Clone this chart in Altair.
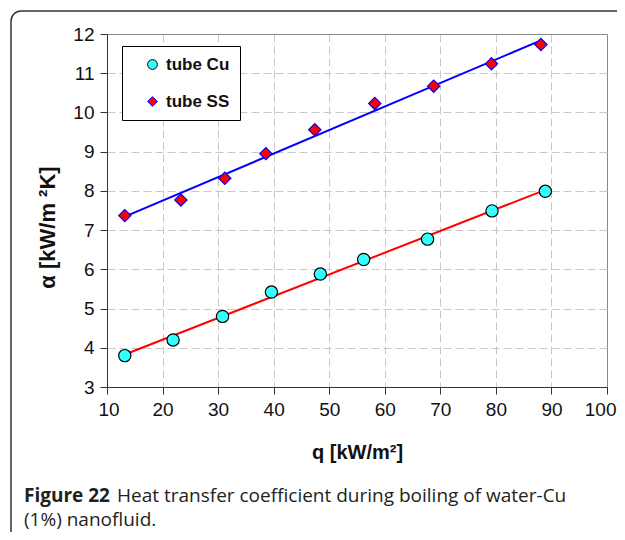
import altair as alt
import pandas as pd

# data
cu_q = [13.2, 21.9, 30.8, 39.6, 48.4, 56.2, 67.7, 79.3, 88.9]
cu_a = [3.80, 4.20, 4.80, 5.42, 5.88, 6.25, 6.77, 7.49, 7.99]
ss_q = [13.2, 23.3, 31.2, 38.6, 47.4, 58.2, 68.8, 79.2, 88.1]
ss_a = [7.37, 7.77, 8.32, 8.95, 9.56, 10.23, 10.67, 11.24, 11.73]
series_names = ["tube Cu", "tube SS"]
x_ticks = [10, 20, 30, 40, 50, 60, 70, 80, 90, 100]
y_ticks = [3, 4, 5, 6, 7, 8, 9, 10, 11, 12]

df = pd.DataFrame({
    "q": cu_q + ss_q,
    "a": cu_a + ss_a,
    "series": [series_names[0]] * len(cu_q) + [series_names[1]] * len(ss_q),
})
one = pd.DataFrame({"k": [0]})

W, H = 500, 353
AX = "Liberation Sans"

xscale = alt.Scale(domain=[10, 100], nice=False, zero=False)
yscale = alt.Scale(domain=[3, 12], nice=False, zero=False)

x_axis = alt.Axis(
    values=x_ticks, title="q [kW/m²]", labelFont=AX, labelFontSize=19, labelColor="#111",
    labelFlush=True, labelFlushOffset=9,
    titleFont=AX, titleFontSize=20, titleFontWeight="bold", titleColor="#111",
    titleX=250, titleY=65, titleBaseline="middle", titleAlign="center",
    tickSize=7, tickColor="#333", domainColor="#333", labelPadding=6,
    gridColor={"condition": {"test": "datum.value === 100", "value": "#888888"}, "value": "#c8c8c8"},
    gridDash={"condition": {"test": "datum.value === 100", "value": []}, "value": [8, 4]},
    gridOpacity={"condition": {"test": "datum.value === 10", "value": 0}, "value": 1},
)
y_axis = alt.Axis(
    values=y_ticks, title="α   [kW/m ²K]", labelFont=AX, labelFontSize=19, labelColor="#111",
    titleFont=AX, titleFontSize=22, titleFontWeight="bold", titleColor="#111",
    tickSize=7, tickColor="#333", domainColor="#333", labelPadding=6,
    titleX=-60, titleY=193, titleAngle=-90, titleAlign="center", titleBaseline="middle",
    gridColor={"condition": {"test": "datum.value === 12", "value": "#888888"}, "value": "#c8c8c8"},
    gridDash={"condition": {"test": "datum.value === 12", "value": []}, "value": [8, 4]},
    gridOpacity={"condition": {"test": "datum.value === 3", "value": 0}, "value": 1},
)

base = alt.Chart(df)

line_cu = base.transform_filter(alt.datum.series == series_names[0]).transform_regression(
    "q", "a").mark_line(color="#ff0000", strokeWidth=2).encode(
    x=alt.X("q:Q", scale=xscale, axis=x_axis), y=alt.Y("a:Q", scale=yscale, axis=y_axis))
line_ss = base.transform_filter(alt.datum.series == series_names[1]).transform_regression(
    "q", "a").mark_line(color="#0000ff", strokeWidth=2).encode(
    x=alt.X("q:Q", scale=xscale, axis=x_axis), y=alt.Y("a:Q", scale=yscale, axis=y_axis))

legend = alt.Legend(
    title=None, orient="none", legendX=15, legendY=12, direction="vertical",
    fillColor="white", strokeColor="#000", padding=10, rowPadding=19,
    labelFont=AX, labelFontSize=17, labelFontWeight="bold", labelColor="#111",
    symbolSize=95, symbolStrokeWidth=1, symbolOffset=12, labelOffset=5,
)

points = base.mark_point(filled=True, opacity=1, size=150, strokeWidth=1.2).encode(
    x=alt.X("q:Q", scale=xscale, axis=x_axis),
    y=alt.Y("a:Q", scale=yscale, axis=y_axis),
    fill=alt.Fill("series:N", scale=alt.Scale(domain=series_names, range=["#33ffff", "#ff0000"]), legend=legend),
    stroke=alt.Stroke("series:N", scale=alt.Scale(domain=series_names, range=["#000000", "#0000ff"]), legend=legend),
    shape=alt.Shape("series:N", scale=alt.Scale(domain=series_names, range=["circle", "diamond"]), legend=legend),
)

frame = alt.Chart(one).mark_rect(
    cornerRadius=10, fillOpacity=0, stroke="#333", strokeWidth=1.5
).encode(x=alt.value(-96), x2=alt.value(560), y=alt.value(-23), y2=alt.value(560))

cap_font = "Open Sans"
CAP = 19
cap1a = alt.Chart(one).mark_text(
    align="left", baseline="alphabetic", font=cap_font, fontSize=CAP, fontWeight="bold", color="#231f20"
).encode(x=alt.value(-83), y=alt.value(468), text=alt.value("Figure 22"))
cap1b = alt.Chart(one).mark_text(
    align="left", baseline="alphabetic", font=cap_font, fontSize=CAP, color="#231f20"
).encode(x=alt.value(10), y=alt.value(468),
         text=alt.value("Heat transfer coefficient during boiling of water-Cu"))
cap2 = alt.Chart(one).mark_text(
    align="left", baseline="alphabetic", font=cap_font, fontSize=CAP, color="#231f20"
).encode(x=alt.value(-83), y=alt.value(492), text=alt.value("(1%) nanofluid."))

chart = alt.layer(frame, line_cu, line_ss, points, cap1a, cap1b, cap2).properties(
    width=W, height=H,
    autosize=alt.AutoSizeParams(type="none"),
    padding={"left": 99, "top": 26, "right": 10, "bottom": 145},
).configure_view(strokeWidth=0).configure(background="white")

chart.save("out.html", embed_options={"renderer": "svg", "actions": False})
